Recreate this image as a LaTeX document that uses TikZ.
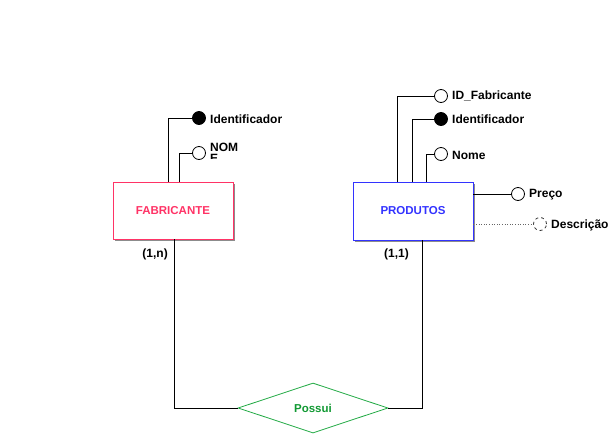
\documentclass[tikz,border=0pt]{standalone}
\usepackage{fontspec}
\setmainfont{Liberation Sans}
\usetikzlibrary{shapes.geometric}
\definecolor{fabc}{HTML}{FF3366}
\definecolor{prodc}{HTML}{3333FF}
\definecolor{relc}{HTML}{22AA44}
\definecolor{reltxt}{HTML}{119933}
\begin{document}
\begin{tikzpicture}[x=1pt,y=-1pt,
  lbl/.style={font=\fontsize{12}{12}\selectfont\bfseries, inner sep=0pt, anchor=west},
  attr/.style={circle, draw, line width=0.8pt, minimum size=13pt, inner sep=0pt, fill=white},
  keyattr/.style={attr, fill=black},
  optattr/.style={attr, dashed, draw=black!80},
  ent/.style={draw, line width=0.8pt, minimum width=120pt, minimum height=58pt, inner sep=0pt, fill=white, font=\fontsize{11.5}{12}\selectfont\bfseries},
  conn/.style={line width=0.8pt}
]
\useasboundingbox (0,0) rectangle (616,437);
% shadows
\fill[black!45] (115,184) rectangle (235,241);
\fill[black!45] (355,184) rectangle (475,242);
% entities
\node[ent, draw=fabc, text=fabc, minimum height=57pt] (fab) at (173,210.5) {FABRICANTE};
\node[ent, draw=prodc, text=prodc] (prod) at (413,211) {PRODUTOS};
% relationship
\node[diamond, draw=relc, line width=0.8pt, minimum width=150pt, minimum height=50pt, inner sep=0pt, aspect=3, text=reltxt, font=\fontsize{11.5}{12}\selectfont\bfseries] (rel) at (313,408) {Possui};
% FABRICANTE attributes
\node[keyattr] (fid) at (199,118) {};
\node[attr] (fnom) at (199,153) {};
\node[lbl] (fidl) at (210,119) {Identificador};
\begin{scope}
\clip (205,138) rectangle (260,158.5);
\node[lbl, align=left, anchor=north west, font=\fontsize{12}{11}\selectfont\bfseries] (fnoml) at (210,143) {NOM\\E};
\end{scope}
\coordinate (f1) at (168,182);
\coordinate (f2) at (179,182);
\draw[conn] (f1) |- (fid.west);
\draw[conn] (f2) |- (fnom.west);
% PRODUTOS attributes
\node[attr] (pidf) at (441,96) {};
\node[keyattr] (pid) at (441,119) {};
\node[attr] (pnome) at (441,154) {};
\node[attr] (ppreco) at (518,194) {};
\node[optattr] (pdesc) at (540,224) {};
\node[lbl] (pidfl) at (452,96) {ID\_Fabricante};
\node[lbl] (pidl) at (452,119) {Identificador};
\node[lbl] (pnomel) at (452,155) {Nome};
\node[lbl] (ppl) at (529,195) {Preço};
\node[lbl] (pdl) at (551,225) {Descrição};
\coordinate (p1) at (397,182);
\coordinate (p2) at (412,182);
\coordinate (p3) at (426,182);
\draw[conn] (p1) |- (pidf.west);
\draw[conn] (p2) |- (pid.west);
\draw[conn] (p3) |- (pnome.west);
\draw[conn] (prod.east |- ppreco) -- (ppreco.west);
\draw[line width=0.6pt, black!60, dotted] (prod.east |- pdesc) -- (pdesc.west);
% relationship connectors
\coordinate (fb) at (174,239);
\coordinate (pb) at (422,240);
\draw[conn] (fb) |- (rel.west);
\draw[conn] (pb) |- (rel.east);
\node[lbl, anchor=east] (c1) at (168,254) {(1,n)};
\node[lbl, anchor=east] (c2) at (409,254) {(1,1)};
\end{tikzpicture}
\end{document}
